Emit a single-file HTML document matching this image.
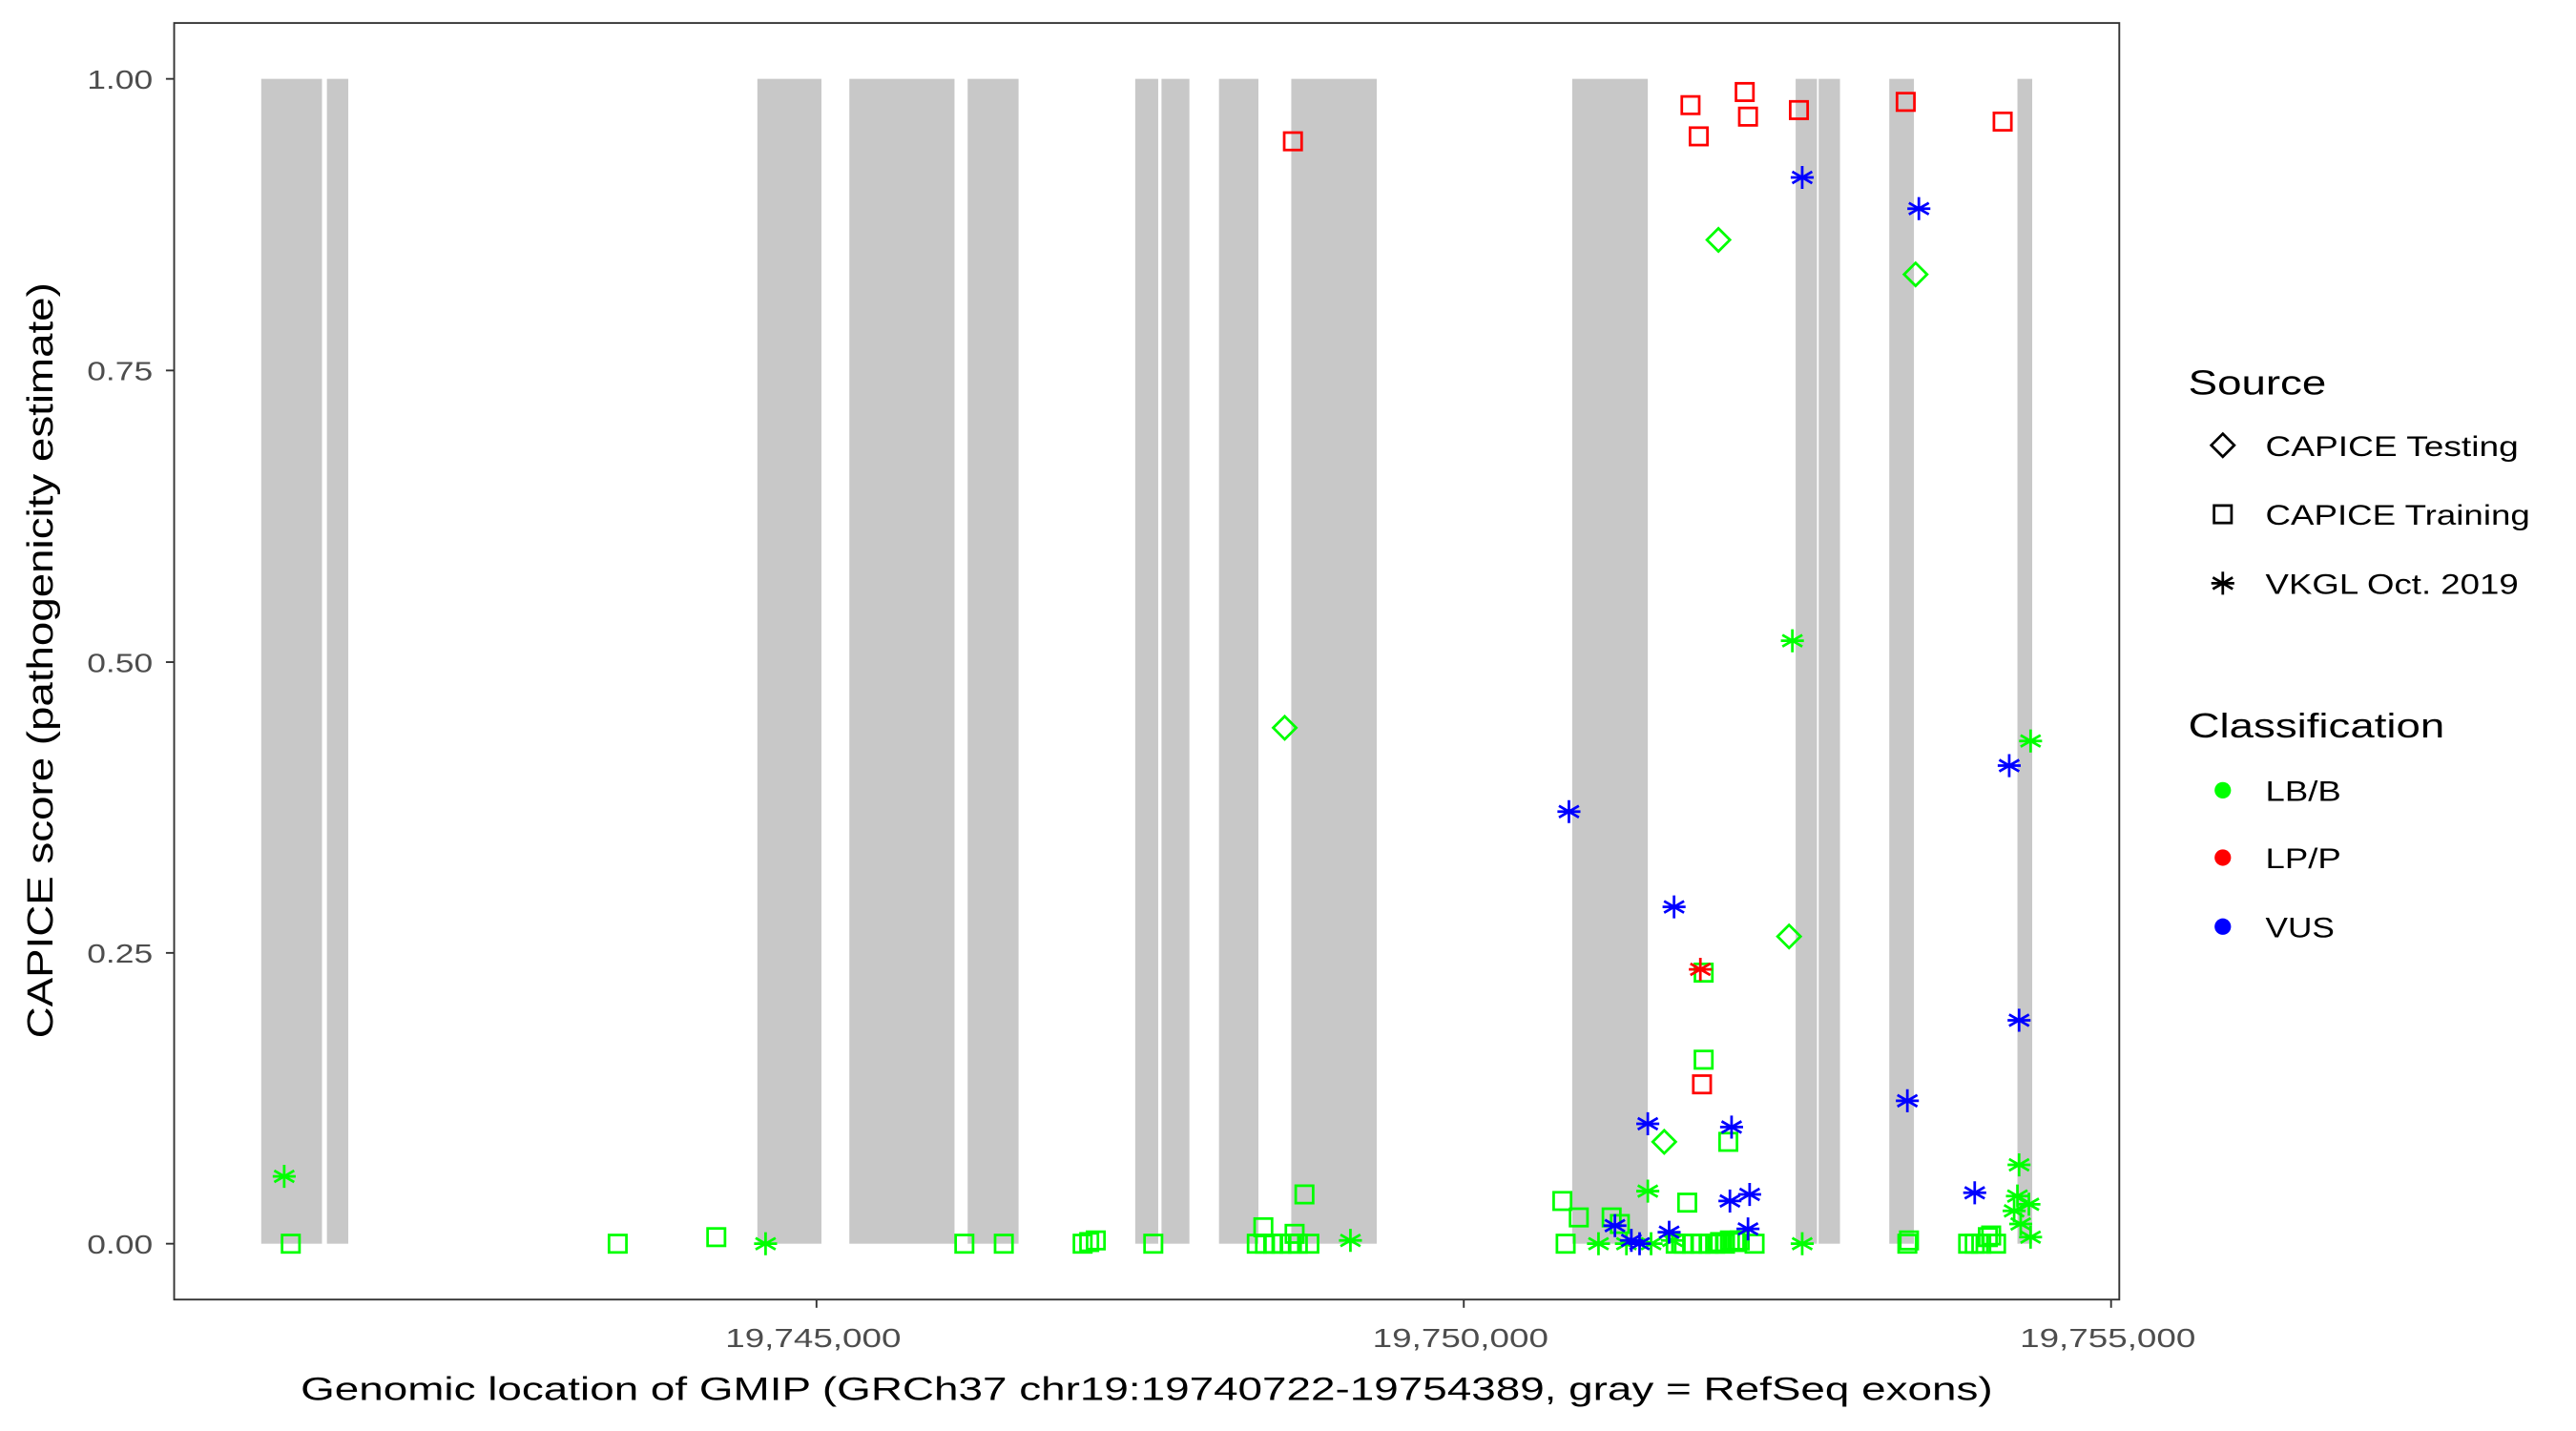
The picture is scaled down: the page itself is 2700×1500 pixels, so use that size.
<!DOCTYPE html>
<html><head><meta charset="utf-8"><style>
html,body{margin:0;padding:0;background:#fff}
svg{display:block}
text{font-family:"Liberation Sans",sans-serif}
</style></head><body>
<svg id="s" width="2700" height="1500" viewBox="0 0 1568 871" preserveAspectRatio="none" xmlns="http://www.w3.org/2000/svg">
<rect x="0" y="0" width="1568" height="871" fill="#fff"/>
<g id="ex" fill="#c8c8c8"></g>
<g id="pts" fill="none" stroke-width="1.6"></g>
<rect x="106" y="14" width="1184" height="777" fill="none" stroke="#333" stroke-width="1.1"/>
<g stroke="#333" stroke-width="1.1">
<line x1="101" y1="48" x2="106" y2="48"/><line x1="101" y1="225.5" x2="106" y2="225.5"/><line x1="101" y1="403" x2="106" y2="403"/><line x1="101" y1="580" x2="106" y2="580"/><line x1="101" y1="757" x2="106" y2="757"/>
<line x1="497" y1="791" x2="497" y2="796"/><line x1="891" y1="791" x2="891" y2="796"/><line x1="1285" y1="791" x2="1285" y2="796"/>
</g>
<g fill="#4d4d4d" font-size="16" text-anchor="end">
<text x="93" y="54" textLength="40" lengthAdjust="spacingAndGlyphs">1.00</text><text x="93" y="231.5" textLength="40" lengthAdjust="spacingAndGlyphs">0.75</text><text x="93" y="409" textLength="40" lengthAdjust="spacingAndGlyphs">0.50</text><text x="93" y="586" textLength="40" lengthAdjust="spacingAndGlyphs">0.25</text><text x="93" y="763" textLength="40" lengthAdjust="spacingAndGlyphs">0.00</text>
</g>
<g fill="#4d4d4d" font-size="16" text-anchor="middle">
<text x="495" y="820" textLength="107" lengthAdjust="spacingAndGlyphs">19,745,000</text><text x="889" y="820" textLength="107" lengthAdjust="spacingAndGlyphs">19,750,000</text><text x="1283" y="820" textLength="107" lengthAdjust="spacingAndGlyphs">19,755,000</text>
</g>
<text x="698" y="852" font-size="20" text-anchor="middle" fill="#000" textLength="1030" lengthAdjust="spacingAndGlyphs">Genomic location of GMIP (GRCh37 chr19:19740722-19754389, gray = RefSeq exons)</text>
<text transform="translate(32,402) rotate(-90)" font-size="22" text-anchor="middle" fill="#000" textLength="460" lengthAdjust="spacingAndGlyphs">CAPICE score (pathogenicity estimate)</text>
<g font-size="21" fill="#000"><text x="1332" y="240" textLength="84" lengthAdjust="spacingAndGlyphs">Source</text><text x="1332" y="449" textLength="156" lengthAdjust="spacingAndGlyphs">Classification</text></g>
<g font-size="17" fill="#000">
<text x="1379" y="277.5" textLength="154" lengthAdjust="spacingAndGlyphs">CAPICE Testing</text><text x="1379" y="319.5" textLength="161" lengthAdjust="spacingAndGlyphs">CAPICE Training</text><text x="1379" y="361.5" textLength="154" lengthAdjust="spacingAndGlyphs">VKGL Oct. 2019</text>
<text x="1379" y="487.5" textLength="46" lengthAdjust="spacingAndGlyphs">LB/B</text><text x="1379" y="528.5" textLength="46" lengthAdjust="spacingAndGlyphs">LP/P</text><text x="1379" y="570.5" textLength="42" lengthAdjust="spacingAndGlyphs">VUS</text>
</g>
<g id="leg" fill="none" stroke="#000" stroke-width="1.6"></g>
<circle cx="1353" cy="481" r="5" fill="#00ff00"/><circle cx="1353" cy="522" r="5" fill="#ff0000"/><circle cx="1353" cy="564" r="5" fill="#0000ff"/>
</svg>
<script>
var NS="http://www.w3.org/2000/svg";
var ex=[[159,196],[199,212],[461,500],[517,581],[589,620],[691,705],[707,724],[742,766],[786,838],[957,1003],[1093,1106],[1107,1120],[1150,1165],[1228,1237]];
var g=document.getElementById("ex");
ex.forEach(function(e){var r=document.createElementNS(NS,"rect");r.setAttribute("x",e[0]);r.setAttribute("y",48);r.setAttribute("width",e[1]-e[0]);r.setAttribute("height",709);g.appendChild(r);});
function mk(par,t,x,y,c){
 var el;
 if(t=="s"){el=document.createElementNS(NS,"rect");el.setAttribute("x",x-5.3);el.setAttribute("y",y-5.3);el.setAttribute("width",10.6);el.setAttribute("height",10.6);}
 else if(t=="d"){el=document.createElementNS(NS,"polygon");el.setAttribute("points",(x)+","+(y-7)+" "+(x+7)+","+y+" "+x+","+(y+7)+" "+(x-7)+","+y);}
 else {el=document.createElementNS(NS,"path");var r=7,a=r*0.866,b=r*0.5;
  el.setAttribute("d","M"+x+" "+(y-r)+"V"+(y+r)+"M"+(x-a)+" "+(y-b)+"L"+(x+a)+" "+(y+b)+"M"+(x-a)+" "+(y+b)+"L"+(x+a)+" "+(y-b)+"M"+(x-r)+" "+y+"H"+(x+r));}
 el.setAttribute("stroke",c);par.appendChild(el);
}
var p=document.getElementById("pts");
var G="#00ff00",R="#ff0000",B="#0000ff";
var gs=[[177,757],[376,757],[436,753],[587,757],[611,757],[659,757],[663,756],[667,755],[702,757],[765,757],[770,757],[775,757],[780,757],[785,757],[790,757],[797,757],[769,747],[788,751],[794,727],[953,757],[951,731],[961,741],[981,741],[1027,732],[1052,695],[1037,592],[1037,645],[1020,757],[1025,757],[1030,757],[1035,757],[1040,757],[1044,757],[1047,756],[1050,757],[1053,755],[1056,756],[1059,755],[1068,757],[1161,757],[1162,755],[1198,757],[1202,757],[1206,757],[1210,753],[1215,757],[1212,752],[986,745]];
gs.forEach(function(a){mk(p,"s",a[0],a[1],G);});
[[1029,64],[1034,83],[1062,56],[1064,71],[1095,67],[1160,62],[1219,74],[787,86],[1036,660]].forEach(function(a){mk(p,"s",a[0],a[1],R);});
[[782,443],[1046,146],[1166,167],[1089,570],[1013,695]].forEach(function(a){mk(p,"d",a[0],a[1],G);});
[[173,716],[466,757],[822,755],[973,757],[1003,725],[1091,390],[1097,757],[1229,709],[1236,451],[1226,737],[1230,745],[1235,733],[1236,753],[1228,728],[990,757],[1005,757],[1018,755]].forEach(function(a){mk(p,"x",a[0],a[1],G);});
mk(p,"x",1035,590,R);
[[955,494],[1097,108],[1168,127],[1223,466],[1019,552],[1229,621],[1161,670],[1003,684],[1054,686],[1202,726],[983,746],[1053,731],[1065,727],[1016,750],[1064,748],[993,755],[998,757]].forEach(function(a){mk(p,"x",a[0],a[1],B);});
var l=document.getElementById("leg");
mk(l,"d",1353,271,"#000");mk(l,"s",1353,313,"#000");mk(l,"x",1353,355,"#000");
</script>
</body></html>
